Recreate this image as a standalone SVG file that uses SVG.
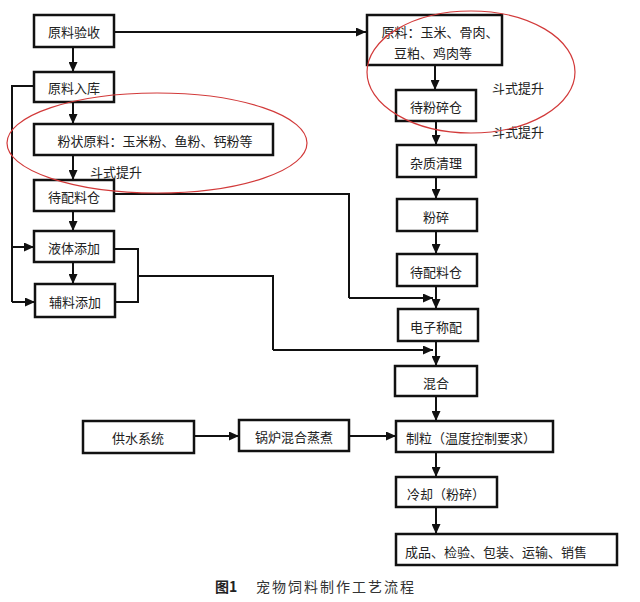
<svg xmlns="http://www.w3.org/2000/svg" width="640" height="602" viewBox="0 0 640 602">
<defs>
<marker id="ah" markerUnits="userSpaceOnUse" markerWidth="10" markerHeight="9" refX="10" refY="4.5" orient="auto">
<path d="M0,0 L10,4.5 L0,9 z" fill="#111"/>
</marker>
<style>
.box{fill:#fff;stroke:#111;stroke-width:2.5}
.t{font-family:"Noto Sans CJK SC","Noto Sans",sans-serif;font-size:13px;fill:#222;text-anchor:middle;dominant-baseline:central}
.lbl{font-family:"Noto Sans CJK SC","Noto Sans",sans-serif;font-size:13px;fill:#222;dominant-baseline:central}
.c{fill:none;stroke:#111;stroke-width:2}
.a{fill:none;stroke:#111;stroke-width:2;marker-end:url(#ah)}
.ell{fill:none;stroke:#d23a3a;stroke-width:1.2}
</style>
</defs>
<rect width="640" height="602" fill="#fff"/>

<g id="connectors">
<path class="a" d="M114,32 H366"/>
<path class="a" d="M73,47 V72"/>
<path class="a" d="M73,102 V124"/>
<path class="a" d="M73,155 V180"/>
<path class="a" d="M73,211 V231"/>
<path class="a" d="M73,262 V284"/>
<path class="c" d="M34,86 H12 V302"/>
<path class="a" d="M12,247 H34"/>
<path class="a" d="M12,302 H35"/>
<path class="c" d="M114,194 H349 V298"/>
<path class="a" d="M349,298 H433"/>
<path class="c" d="M114,249 H138 V302 H115"/>
<path class="c" d="M138,276 H273 V350"/>
<path class="a" d="M273,350 H433"/>
<path class="a" d="M435,65 V90"/>
<path class="a" d="M436,121 V145"/>
<path class="a" d="M436,177 V199"/>
<path class="a" d="M436,231 V254"/>
<path class="a" d="M436,286 V309"/>
<path class="a" d="M436,341 V366"/>
<path class="a" d="M436,396 V421"/>
<path class="a" d="M436,452 V477"/>
<path class="a" d="M436,507 V534"/>
<path class="a" d="M194,436 H239"/>
<path class="a" d="M349,436 H396"/>
</g>

<g id="n1"><rect class="box" x="34" y="15" width="80" height="32"/><text class="t" x="74" y="31">原料验收</text></g>
<g id="n2"><rect class="box" x="34" y="72" width="80" height="30"/><text class="t" x="74" y="87">原料入库</text></g>
<g id="n3"><rect class="box" x="34" y="124" width="239" height="31"/><text class="t" x="155" y="140">粉状原料：玉米粉、鱼粉、钙粉等</text></g>
<g id="n4"><rect class="box" x="34" y="180" width="80" height="31"/><text class="t" x="74" y="196">待配料仓</text></g>
<g id="n5"><rect class="box" x="34" y="231" width="80" height="31"/><text class="t" x="74" y="247">液体添加</text></g>
<g id="n6"><rect class="box" x="35" y="284" width="80" height="33"/><text class="t" x="75" y="301">辅料添加</text></g>

<g id="n7"><rect class="box" x="367" y="15" width="135" height="50"/><text class="t" x="440" y="31">原料：玉米、骨肉、</text><text class="t" x="433" y="52">豆粕、鸡肉等</text></g>
<g id="n8"><rect class="box" x="396" y="90" width="80" height="31"/><text class="t" x="436" y="106">待粉碎仓</text></g>
<g id="n9"><rect class="box" x="397" y="145" width="79" height="32"/><text class="t" x="436" y="162">杂质清理</text></g>
<g id="n10"><rect class="box" x="397" y="199" width="80" height="32"/><text class="t" x="436" y="216">粉碎</text></g>
<g id="n11"><rect class="box" x="397" y="254" width="80" height="32"/><text class="t" x="436" y="271">待配料仓</text></g>
<g id="n12"><rect class="box" x="398" y="309" width="80" height="32"/><text class="t" x="436" y="326">电子称配</text></g>
<g id="n13"><rect class="box" x="395" y="366" width="82" height="30"/><text class="t" x="436" y="382">混合</text></g>
<g id="n14"><rect class="box" x="396" y="421" width="157" height="31"/><text class="t" x="471" y="437">制粒（温度控制要求）</text></g>
<g id="n15"><rect class="box" x="396" y="477" width="101" height="30"/><text class="t" x="446" y="493">冷却（粉碎）</text></g>
<g id="n16"><rect class="box" x="396" y="534" width="221" height="31"/><text class="lbl" x="405" y="551">成品、检验、包装、运输、销售</text></g>
<g id="n17"><rect class="box" x="83" y="421" width="111" height="32"/><text class="t" x="138" y="437">供水系统</text></g>
<g id="n18"><rect class="box" x="239" y="420" width="110" height="31"/><text class="t" x="294" y="436">锅炉混合蒸煮</text></g>

<g id="labels">
<text class="lbl" x="90" y="171">斗式提升</text>
<text class="lbl" x="492" y="87">斗式提升</text>
<text class="lbl" x="492" y="131">斗式提升</text>
</g>

<g id="highlights">
<ellipse class="ell" cx="157" cy="143" rx="150" ry="50"/>
<ellipse class="ell" cx="471" cy="72" rx="104" ry="61"/>
</g>

<g id="caption">
<text x="215" y="586" style="font-family:'Noto Sans CJK SC',sans-serif;font-size:14px;font-weight:bold;fill:#222;dominant-baseline:central">图1</text>
<text x="256" y="586" style="font-family:'Noto Sans CJK SC',sans-serif;font-size:14px;fill:#333;dominant-baseline:central;letter-spacing:2px">宠物饲料制作工艺流程</text>
</g>
</svg>
